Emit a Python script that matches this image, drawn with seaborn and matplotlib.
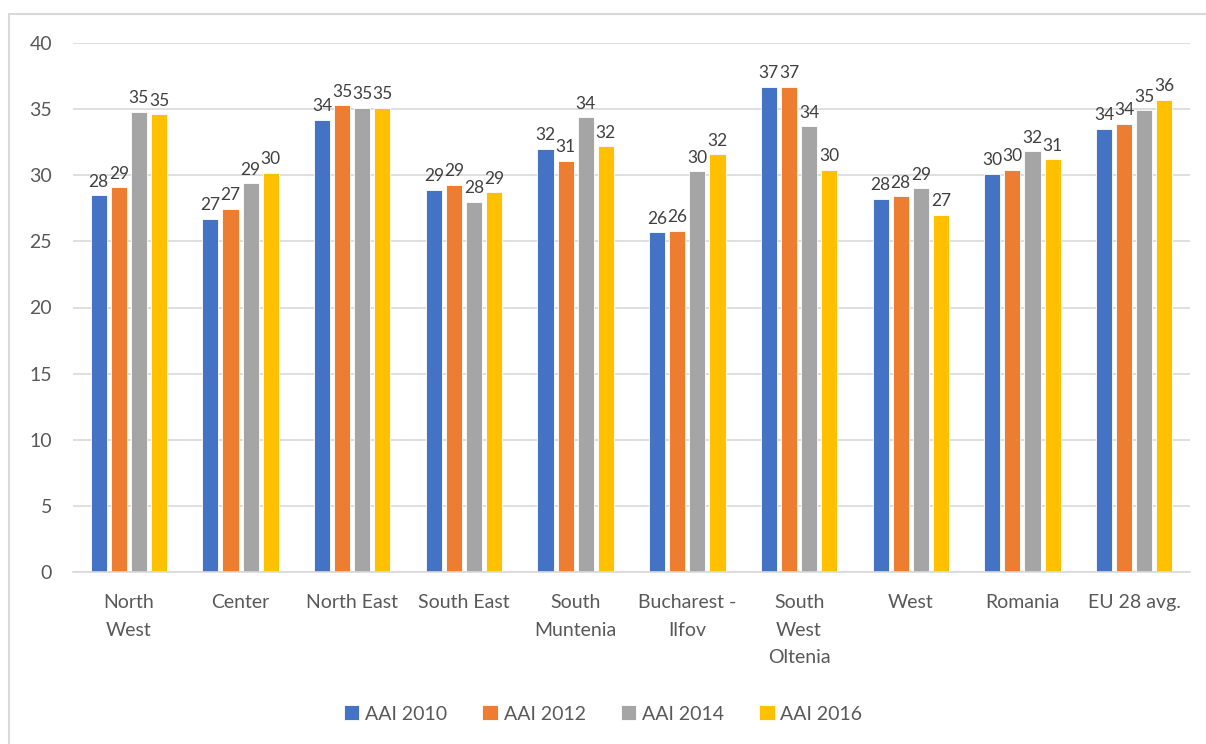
import matplotlib
matplotlib.use("Agg")
import matplotlib.pyplot as plt
import seaborn as sns
import pandas as pd
from matplotlib.patches import Rectangle

categories = ["North\nWest", "Center", "North East", "South East", "South\nMuntenia",
              "Bucharest -\nIlfov", "South\nWest\nOltenia", "West", "Romania", "EU 28 avg."]
series = ["AAI 2010", "AAI 2012", "AAI 2014", "AAI 2016"]
aai_2010 = [28.5, 26.7, 34.2, 28.9, 32.0, 25.7, 36.7, 28.2, 30.1, 33.5]
aai_2012 = [29.1, 27.45, 35.3, 29.3, 31.1, 25.8, 36.7, 28.4, 30.4, 33.9]
aai_2014 = [34.8, 29.4, 35.1, 28.0, 34.4, 30.3, 33.7, 29.0, 31.8, 34.9]
aai_2016 = [34.6, 30.2, 35.1, 28.7, 32.2, 31.6, 30.4, 27.0, 31.2, 35.7]
colors = ["#4472C4", "#ED7D31", "#A5A5A5", "#FFC000"]

rows = []
for s, vals in zip(series, [aai_2010, aai_2012, aai_2014, aai_2016]):
    for c, v in zip(categories, vals):
        rows.append({"Region": c, "Series": s, "Value": v})
df = pd.DataFrame(rows)

sns.set_theme(style="white")
plt.rcParams["font.family"] = ["Lato", "DejaVu Sans"]
text_col = "#595959"
fs = 14

fig = plt.figure(figsize=(12.06, 7.44), dpi=100)
ax = fig.add_axes([73 / 1206, 1 - 572 / 744, (1190 - 73) / 1206, (572 - 43) / 744])

sns.barplot(data=df, x="Region", y="Value", hue="Series", order=categories,
            hue_order=series, palette=colors, width=0.72, gap=0.2,
            saturation=1, ax=ax, legend=True, edgecolor="white", linewidth=0.6)

ax.set_ylim(0, 40)
ax.set_yticks(range(0, 41, 5))
ax.set_xlim(-0.5, len(categories) - 0.5)
ax.yaxis.grid(True, color="#d9d9d9", linewidth=1.2)
ax.set_axisbelow(True)
for sp in ["top", "right", "left"]:
    ax.spines[sp].set_visible(False)
ax.spines["bottom"].set_color("#d9d9d9")
ax.spines["bottom"].set_linewidth(1.2)
ax.set_xlabel("")
ax.set_ylabel("")
ax.tick_params(axis="y", length=0, pad=15, labelsize=fs, labelcolor=text_col)
ax.tick_params(axis="x", length=0, pad=16, labelsize=fs, labelcolor=text_col)
for lbl in ax.get_xticklabels():
    lbl.set_linespacing(1.75)

for cont in ax.containers:
    for bar in cont:
        h = bar.get_height()
        ax.annotate(f"{h:.0f}", (bar.get_x() + bar.get_width() / 2, h),
                    xytext=(0, 4), textcoords="offset points", ha="center",
                    va="bottom", fontsize=12.5, color="#404040")

leg = ax.get_legend()
handles = leg.legend_handles
leg.remove()
fig.legend(handles, series, loc="center", bbox_to_anchor=(0.5, 1 - 714 / 744),
           ncol=4, frameon=False, fontsize=fs, handlelength=0.8, handleheight=0.8,
           handletextpad=0.3, columnspacing=1.8, labelcolor=text_col)

fig.patches.append(Rectangle((9 / 1206, -0.1), 1.2, 1 - 14 / 744 + 0.1,
                             transform=fig.transFigure, fill=False,
                             edgecolor="#d9d9d9", linewidth=1.5))

fig.savefig("out.png", dpi=100)
